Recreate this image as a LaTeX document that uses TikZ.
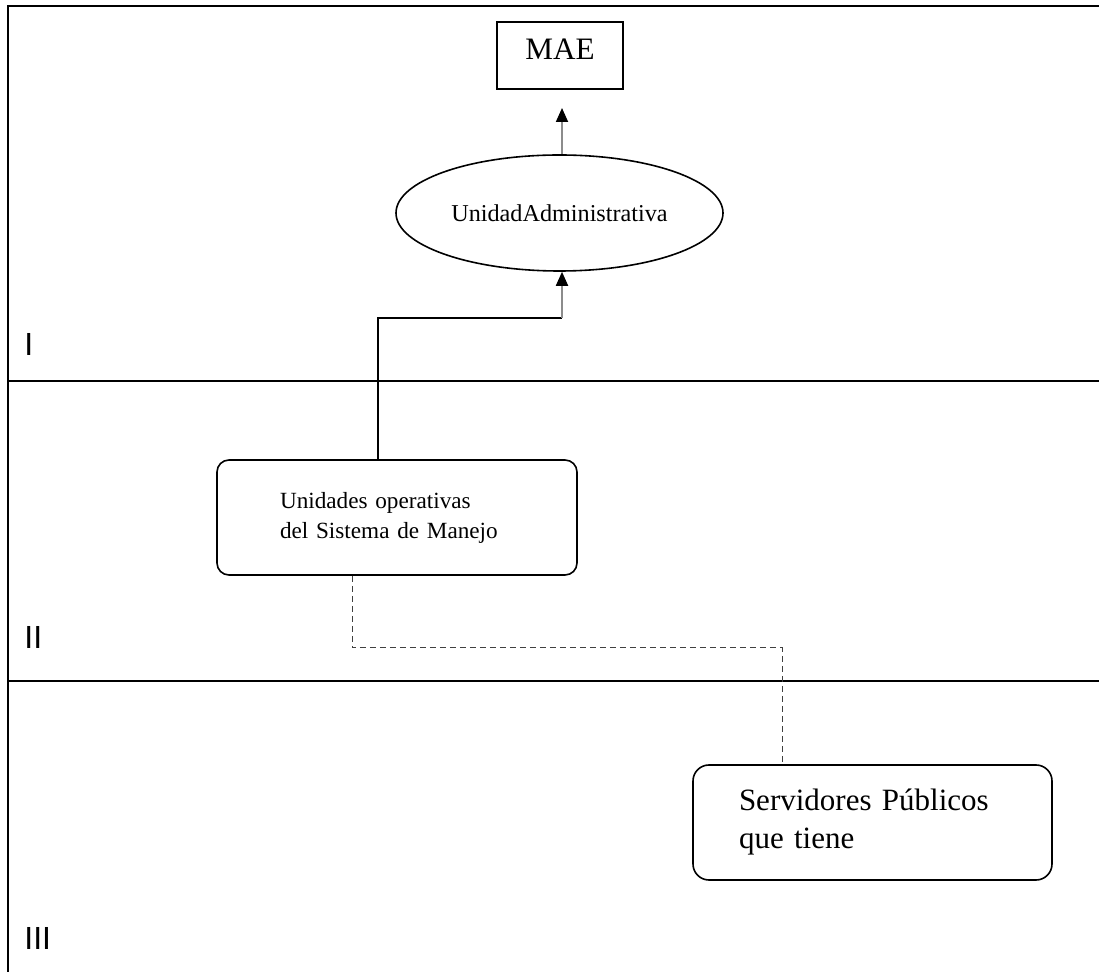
\documentclass[tikz,border=0pt]{standalone}
\usepackage{fontspec}
\setmainfont{Liberation Serif}
\setsansfont{Liberation Sans}
\usetikzlibrary{shapes.geometric,arrows.meta}
\tikzset{
  frame/.style={line width=1pt},
  rbox/.style={draw, line width=0.8pt, rounded corners=6pt, align=left, inner sep=0pt},
  arr/.style={draw=black!45, line width=0.9pt, -{Triangle[width=6pt,length=7pt,color=black,fill=black]}},
  link/.style={line width=0.8pt},
  dlink/.style={draw=black!75, line width=0.5pt, dash pattern=on 3pt off 2pt},
  lvl/.style={font=\sffamily\fontsize{16}{19}\selectfont, anchor=base west, inner sep=0pt}
}
\begin{document}
\begin{tikzpicture}[x=0.5pt,y=-0.5pt]
\useasboundingbox (0,0) rectangle (1099,972);
% frame
\draw[frame] (1099,6) -- (8,6) -- (8,972);
\draw[frame] (8,381) -- (1099,381);
\draw[frame] (8,681) -- (1099,681);
% level labels
\node[lvl] (l1) at (24,356) {I};
\node[lvl] (l2) at (24,649) {II};
\node[lvl] (l3) at (24,950) {III};
% nodes
\node[draw, line width=0.9pt, inner xsep=0pt, inner ysep=0pt, text height=19pt, text depth=14.5pt, minimum width=63pt,
      font=\fontsize{15.6}{19}\selectfont] (mae) at (560,55.5) {MAE};
\node[draw, ellipse, line width=0.8pt, inner sep=0pt, minimum width=163.5pt, minimum height=58pt,
      font=\fontsize{12.1}{15}\selectfont] (ua) at (559.5,213) {UnidadAdministrativa};
\node[rbox, minimum width=180pt, minimum height=57.5pt, text width=117pt,
      font=\fontsize{11.6}{15}\selectfont] (uo) at (397,517.5) {Unidades operativas\\del Sistema de Manejo};
\node[rbox, rounded corners=8pt, minimum width=179.5pt, minimum height=57.5pt, text width=133.5pt,
      font=\fontsize{15.5}{19}\selectfont] (sp) at (872.5,822.5) {Servidores Públicos\\que tiene};
% connectors
\coordinate (t1) at (562,108);
\coordinate (j1) at (378,318);
\coordinate (j2) at (562,318);
\coordinate (d1) at (352,648);
\coordinate (d2) at (782,648);
\draw[arr] (ua.north -| t1) -- (t1);
\draw[link] (uo.north -| j1) -- (j1) -- (j2);
\draw[arr] (j2) -- (ua.south -| j2);
\draw[dlink] (uo.south -| d1) -- (d1) -- (d2) -- (sp.north -| d2);
\end{tikzpicture}
\end{document}
